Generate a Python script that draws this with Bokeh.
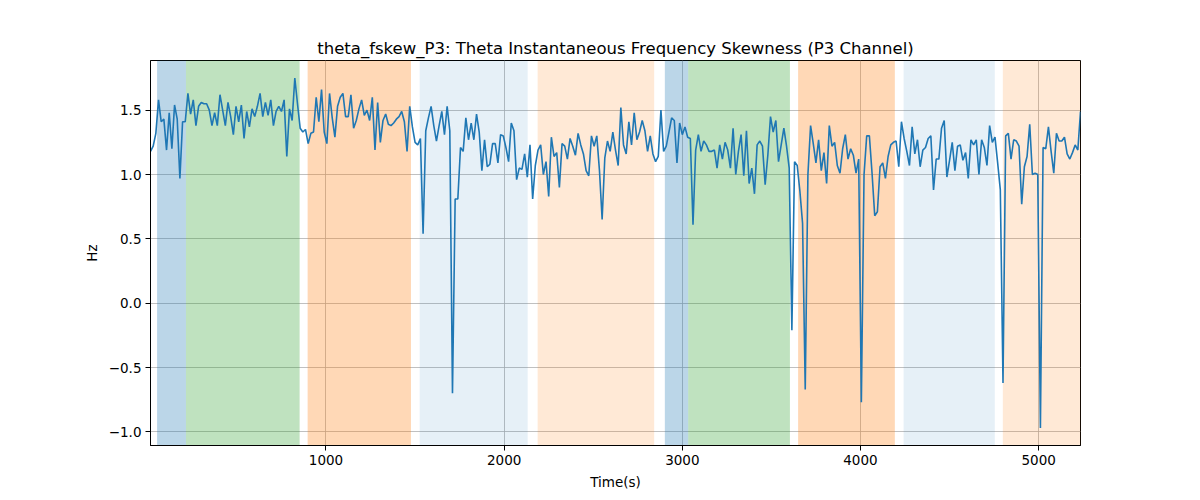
import numpy as np
from bokeh.plotting import figure
from bokeh.models import Range1d, FixedTicker, BoxAnnotation, CustomJSTickFormatter
from bokeh.embed import file_html
from bokeh.resources import INLINE

# ---------------- data ----------------
title_text = "theta_fskew_P3: Theta Instantaneous Frequency Skewness (P3 Channel)"
x_label = "Time(s)"
y_label = "Hz"

sample_start = 15      # s, time of first window
sample_step = 15       # s, spacing between windows

skew_values = [
    # 0-48
    1.18, 1.22, 1.32, 1.58, 1.41, 1.43, 1.19, 1.48, 1.20, 1.54,
    1.43, 0.97, 1.41, 1.41, 1.63, 1.47, 1.58, 1.38, 1.53, 1.56,
    1.55, 1.55, 1.50, 1.38, 1.48, 1.38, 1.62, 1.50, 1.38, 1.56,
    1.45, 1.31, 1.53, 1.41, 1.54, 1.28, 1.49, 1.37, 1.51, 1.45,
    1.53, 1.63, 1.45, 1.56, 1.46, 1.58, 1.38, 1.49, 1.53,
    # 49-99
    1.49, 1.58, 1.14, 1.51, 1.42, 1.75, 1.55, 1.36, 1.33, 1.35,
    1.24, 1.32, 1.33, 1.60, 1.41, 1.66, 1.33, 1.24, 1.63, 1.44,
    1.29, 1.53, 1.60, 1.63, 1.45, 1.45, 1.62, 1.36, 1.42, 1.51,
    1.58, 1.46, 1.50, 1.42, 1.60, 1.19, 1.56, 1.25, 1.42, 1.47,
    1.39, 1.38, 1.40, 1.43, 1.45, 1.49, 1.41, 1.18, 1.53, 1.37, 1.25,
    # 100-149
    1.23, 1.28, 0.54, 1.34, 1.44, 1.53, 1.38, 1.26, 1.38, 1.49,
    1.31, 1.53, 1.34, -0.70, 0.81, 0.81, 1.21, 1.18, 1.44, 1.27,
    1.40, 1.27, 1.47, 1.33, 1.03, 1.27, 1.06, 1.08, 1.24, 1.24,
    1.09, 1.31, 1.30, 1.21, 1.10, 1.40, 1.34, 0.96, 1.05, 1.04,
    1.16, 0.98, 1.23, 0.81, 1.07, 1.19, 1.23, 1.00, 1.10, 0.83,
    # 150-200
    1.29, 1.14, 1.17, 0.90, 1.24, 1.22, 1.12, 1.28, 1.22, 1.15,
    1.32, 1.23, 1.16, 1.03, 0.99, 1.30, 1.22, 1.30, 1.03, 0.65,
    1.13, 1.26, 1.18, 1.33, 1.19, 1.07, 1.52, 1.23, 1.16, 1.41,
    1.23, 1.48, 1.27, 1.33, 1.42, 1.34, 1.18, 1.30, 1.16, 1.10,
    1.14, 1.50, 1.18, 1.22, 1.33, 1.44, 1.42, 1.09, 1.40, 1.31, 1.37,
    # 201-251
    1.29, 1.28, 0.61, 1.19, 1.31, 1.18, 1.26, 1.23, 1.18, 1.18,
    1.19, 1.05, 1.23, 1.12, 1.25, 1.19, 1.05, 1.36, 1.00, 1.18,
    1.31, 0.99, 1.34, 0.93, 1.05, 0.85, 1.23, 1.26, 1.22, 0.92,
    1.15, 1.45, 1.33, 1.42, 1.10, 1.23, 1.36, 1.22, 1.05, -0.21,
    1.10, 1.07, 0.87, 0.62, -0.67, 1.00, 1.38, 1.24, 1.09, 1.27, 1.03,
    # 252-301
    1.17, 0.93, 1.38, 1.22, 1.25, 1.07, 1.01, 1.20, 1.31, 1.12,
    1.20, 1.15, 1.01, 1.12, -0.77, 1.00, 1.30, 1.30, 1.01, 0.68,
    0.71, 1.06, 1.09, 0.97, 1.14, 1.23, 1.25, 1.26, 1.06, 1.41,
    1.28, 1.18, 1.07, 1.37, 1.16, 1.27, 1.06, 1.19, 1.21, 1.28,
    1.30, 0.88, 1.12, 1.12, 1.36, 1.42, 0.98, 1.11, 1.25, 1.03,
    # 302-348
    1.22, 1.23, 1.11, 1.17, 0.97, 1.27, 1.23, 1.27, 1.00, 1.27,
    1.21, 1.07, 1.38, 1.25, 1.29, 1.09, 0.88, -0.62, 1.30, 1.32,
    1.12, 1.27, 1.26, 1.22, 0.77, 1.06, 1.14, 1.39, 1.00, 1.01,
    1.00, -0.97, 1.21, 1.20, 1.37, 1.18, 1.01, 1.32, 1.26, 1.26,
    1.29, 1.16, 1.12, 1.17, 1.23, 1.19, 1.49,
]
times = [sample_start + sample_step * i for i in range(len(skew_values))]

# shaded stage segments (seconds)
span_start = [52, 214, 897, 1526, 2188, 2902, 3033, 3650, 4242, 4799]
span_end = [214, 852, 1477, 2132, 2842, 3033, 3604, 4193, 4754, 5300]
span_kind = ["blue", "green", "orange", "lightblue", "lightorange",
             "blue", "green", "orange", "lightblue", "lightorange"]

x_ticks = [1000, 2000, 3000, 4000, 5000]
y_ticks = [-1.0, -0.5, 0.0, 0.5, 1.0, 1.5]

# ---------------- styles ----------------
kind_style = {
    "blue": ("#1f77b4", 0.30),
    "green": ("#2ca02c", 0.30),
    "orange": ("#ff7f0e", 0.30),
    "lightblue": ("#1f77b4", 0.11),
    "lightorange": ("#ff7f0e", 0.17),
}
FONT = "DejaVu Sans"

vmin, vmax = min(skew_values), max(skew_values)
pad = 0.05 * (vmax - vmin)

p = figure(
    width=1192, height=492,
    frame_width=930, frame_height=385,
    min_border_left=150, min_border_right=112,
    min_border_top=60, min_border_bottom=47,
    x_range=Range1d(times[0], times[-1]),
    y_range=Range1d(vmin - pad, vmax + pad),
    output_backend="svg", toolbar_location=None,
    title=title_text,
)

for s, e, k in zip(span_start, span_end, span_kind):
    c, a = kind_style[k]
    p.add_layout(BoxAnnotation(left=s, right=e, fill_color=c, fill_alpha=a,
                               line_alpha=0, level="underlay"))

p.line(times, skew_values, line_color="#1f77b4", line_width=1.6)

# title
p.title.text_font = FONT
p.title.text_font_size = "16.5px"
p.title.text_font_style = "normal"
p.title.align = "center"
p.title.text_color = "black"
p.title.standoff = 5

# outline (matplotlib box)
p.outline_line_color = "black"
p.outline_line_width = 1
p.outline_line_alpha = 1.0
p.background_fill_color = "white"
p.border_fill_color = "white"

# grid
for g in (p.xgrid, p.ygrid):
    g.grid_line_color = "#b0b0b0"
    g.grid_line_width = 0.8
p.xgrid.ticker = FixedTicker(ticks=x_ticks)
p.ygrid.ticker = FixedTicker(ticks=y_ticks)

# axes
p.xaxis.ticker = FixedTicker(ticks=x_ticks)
p.yaxis.ticker = FixedTicker(ticks=y_ticks)
p.yaxis.formatter = CustomJSTickFormatter(code="return tick.toFixed(1).replace('-', '\u2212');")
p.xaxis.formatter = CustomJSTickFormatter(code="return tick.toFixed(0);")
for ax in (p.xaxis, p.yaxis):
    ax.axis_line_color = "black"
    ax.axis_line_width = 1
    ax.major_tick_line_color = "black"
    ax.major_tick_out = 5
    ax.major_tick_in = 0
    ax.minor_tick_line_color = None
    ax.major_label_text_font = FONT
    ax.major_label_text_font_size = "13.5px"
    ax.major_label_text_color = "black"
    ax.major_label_standoff = 4
    ax.axis_label_text_font = FONT
    ax.axis_label_text_font_size = "13.5px"
    ax.axis_label_text_font_style = "normal"
    ax.axis_label_text_color = "black"
    ax.axis_label_standoff = 6
p.xaxis.axis_label = x_label
p.yaxis.axis_label = y_label

open("out.html", "w").write(file_html(p, INLINE))
